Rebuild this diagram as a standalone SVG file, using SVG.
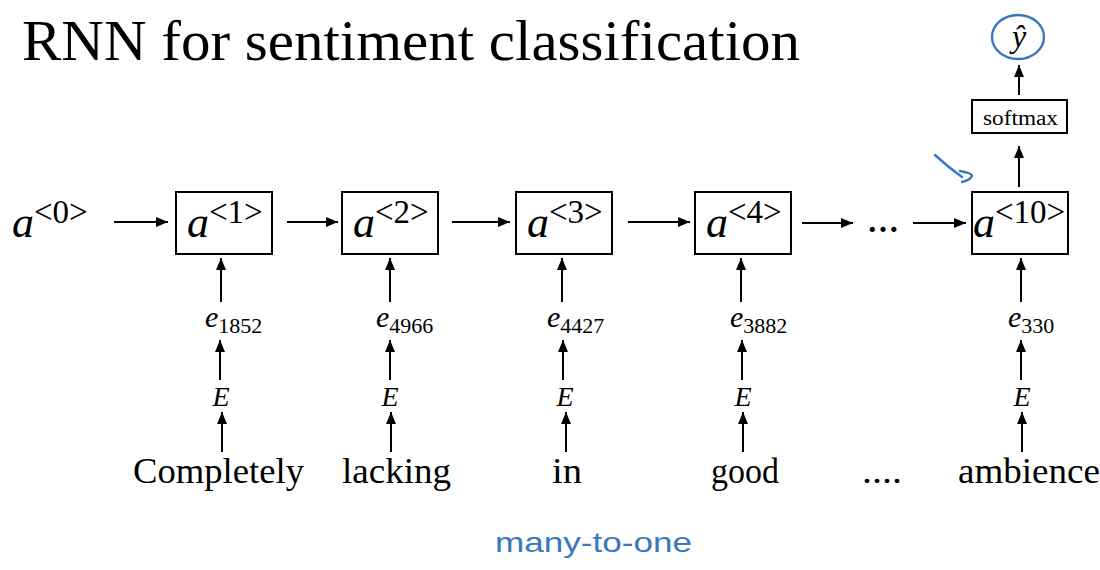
<svg xmlns="http://www.w3.org/2000/svg" width="1100" height="570" viewBox="0 0 1100 570">
<defs>
<marker id="ah" markerUnits="userSpaceOnUse" markerWidth="13" markerHeight="11" refX="12" refY="5" orient="auto">
<path d="M0,0 L12,5 L0,10 z" fill="#000"/>
</marker>
<style>
.box{fill:#fff;stroke:#000;stroke-width:2}
.c{stroke:#000;stroke-width:2;fill:none;marker-end:url(#ah)}
.mi{font-family:"Liberation Serif","DejaVu Serif",serif;font-style:italic;fill:#000}
.up{font-family:"Liberation Serif","DejaVu Serif",serif;font-style:normal;fill:#000}
.w{font-family:"Liberation Serif","DejaVu Serif",serif;font-size:36px;fill:#000}
.blue{stroke:#3a78bd;stroke-width:2.4;fill:none;stroke-linecap:round;stroke-linejoin:round}
</style>
</defs>
<rect width="1100" height="570" fill="#fff"/>
<text id="title" x="22" y="60" class="up" font-size="56" textLength="778" lengthAdjust="spacingAndGlyphs">RNN for sentiment classification</text>

<g id="a0"><text x="12" y="237" class="mi" font-size="44">a<tspan class="up" font-size="33" dy="-14">&lt;0&gt;</tspan></text></g>

<g id="n1"><rect class="box" x="176" y="192" width="96" height="62"/><text x="187" y="237" class="mi" font-size="44">a<tspan class="up" font-size="33" dy="-14">&lt;1&gt;</tspan></text></g>
<g id="n2"><rect class="box" x="342" y="192" width="96" height="62"/><text x="353" y="237" class="mi" font-size="44">a<tspan class="up" font-size="33" dy="-14">&lt;2&gt;</tspan></text></g>
<g id="n3"><rect class="box" x="516" y="192" width="96" height="62"/><text x="527" y="237" class="mi" font-size="44">a<tspan class="up" font-size="33" dy="-14">&lt;3&gt;</tspan></text></g>
<g id="n4"><rect class="box" x="695" y="192" width="96" height="62"/><text x="706" y="237" class="mi" font-size="44">a<tspan class="up" font-size="33" dy="-14">&lt;4&gt;</tspan></text></g>
<g id="dots"><text x="883" y="232" text-anchor="middle" class="up" font-size="32" font-weight="bold">…</text></g>
<g id="n10"><rect class="box" x="972" y="192" width="96" height="62"/><text x="973" y="237" class="mi" font-size="44">a<tspan class="up" font-size="33" dy="-14">&lt;10&gt;</tspan></text></g>

<g id="softmax"><rect class="box" x="972" y="100" width="95" height="33"/><text x="983" y="125" class="up" font-size="20" textLength="75" lengthAdjust="spacingAndGlyphs">softmax</text></g>
<g id="yhat"><ellipse cx="1018" cy="37" rx="26" ry="22" class="blue"/><text x="1019" y="47" text-anchor="middle" class="mi" font-size="32">ŷ</text></g>

<g id="e1"><text x="205" y="327" class="mi" font-size="30">e<tspan class="up" font-size="22" dy="6">1852</tspan></text></g>
<g id="e2"><text x="376" y="327" class="mi" font-size="30">e<tspan class="up" font-size="22" dy="6">4966</tspan></text></g>
<g id="e3"><text x="547" y="327" class="mi" font-size="30">e<tspan class="up" font-size="22" dy="6">4427</tspan></text></g>
<g id="e4"><text x="730" y="327" class="mi" font-size="30">e<tspan class="up" font-size="22" dy="6">3882</tspan></text></g>
<g id="e10"><text x="1008" y="327" class="mi" font-size="30">e<tspan class="up" font-size="22" dy="6">330</tspan></text></g>

<g id="E1"><text x="221" y="406" text-anchor="middle" class="mi" font-size="28">E</text></g>
<g id="E2"><text x="390" y="406" text-anchor="middle" class="mi" font-size="28">E</text></g>
<g id="E3"><text x="565" y="406" text-anchor="middle" class="mi" font-size="28">E</text></g>
<g id="E4"><text x="743" y="406" text-anchor="middle" class="mi" font-size="28">E</text></g>
<g id="E10"><text x="1022" y="406" text-anchor="middle" class="mi" font-size="28">E</text></g>

<g id="w1"><text x="133" y="483" class="w" textLength="171" lengthAdjust="spacingAndGlyphs">Completely</text></g>
<g id="w2"><text x="342" y="483" class="w" textLength="109" lengthAdjust="spacingAndGlyphs">lacking</text></g>
<g id="w3"><text x="552" y="483" class="w" textLength="30" lengthAdjust="spacingAndGlyphs">in</text></g>
<g id="w4"><text x="711" y="483" class="w" textLength="68" lengthAdjust="spacingAndGlyphs">good</text></g>
<g id="w5"><text x="862" y="483" class="w" textLength="40" lengthAdjust="spacingAndGlyphs">....</text></g>
<g id="w10"><text x="958" y="483" class="w" textLength="142" lengthAdjust="spacingAndGlyphs">ambience</text></g>

<g id="connectors">
<line class="c" x1="114" y1="222" x2="168" y2="222"/>
<line class="c" x1="287" y1="222" x2="338" y2="222"/>
<line class="c" x1="452" y1="222" x2="510" y2="222"/>
<line class="c" x1="628" y1="222" x2="690" y2="222"/>
<line class="c" x1="802" y1="223" x2="853" y2="223"/>
<line class="c" x1="913" y1="223" x2="966" y2="223"/>

<line class="c" x1="221" y1="302" x2="221" y2="258"/>
<line class="c" x1="390" y1="302" x2="390" y2="258"/>
<line class="c" x1="562" y1="302" x2="562" y2="258"/>
<line class="c" x1="741" y1="302" x2="741" y2="258"/>
<line class="c" x1="1021" y1="302" x2="1021" y2="258"/>

<line class="c" x1="220" y1="380" x2="220" y2="340"/>
<line class="c" x1="390" y1="380" x2="390" y2="340"/>
<line class="c" x1="563" y1="380" x2="563" y2="340"/>
<line class="c" x1="742" y1="380" x2="742" y2="340"/>
<line class="c" x1="1021" y1="380" x2="1021" y2="340"/>

<line class="c" x1="222" y1="452" x2="222" y2="412"/>
<line class="c" x1="391" y1="452" x2="391" y2="412"/>
<line class="c" x1="566" y1="452" x2="566" y2="412"/>
<line class="c" x1="743" y1="452" x2="743" y2="412"/>
<line class="c" x1="1022" y1="452" x2="1022" y2="412"/>

<line class="c" x1="1019" y1="187" x2="1019" y2="146"/>
<line class="c" x1="1019" y1="95" x2="1019" y2="65"/>
</g>

<g id="annot">
<path class="blue" d="M935,155 Q948,167 962,177"/>
<path class="blue" d="M960,171 Q972,173 972,176 Q970,180 962,182"/>
<text x="495" y="552" font-family="Liberation Sans, sans-serif" font-size="28" fill="#3a78bd" textLength="197" lengthAdjust="spacingAndGlyphs">many-to-one</text>
</g>
</svg>
